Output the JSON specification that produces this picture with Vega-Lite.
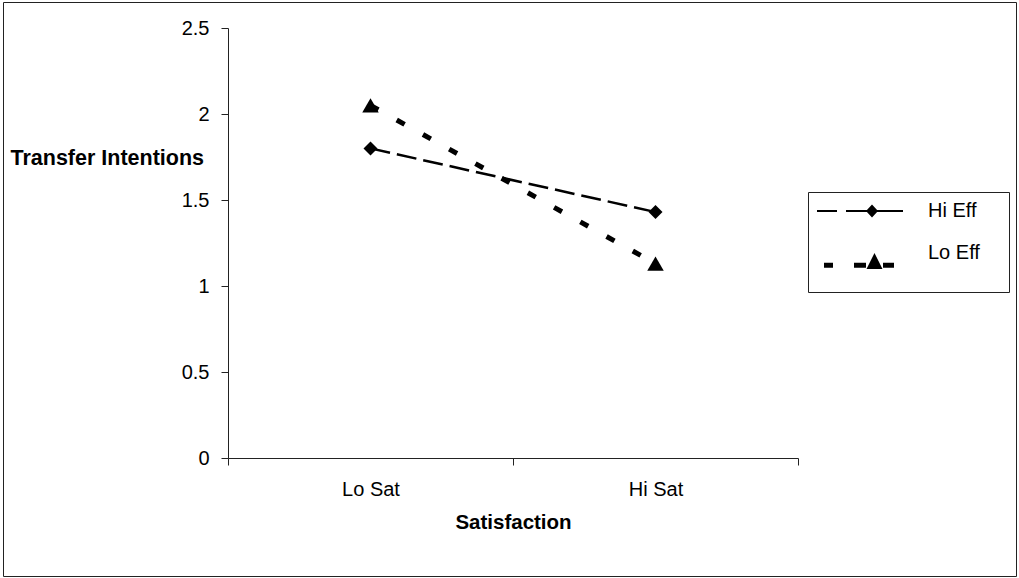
{
  "$schema": "https://vega.github.io/schema/vega-lite/v6.json",
  "width": 1013,
  "height": 574,
  "autosize": {"type": "none"},
  "padding": {"left": 3, "top": 2, "right": 3, "bottom": 2},
  "background": "white",
  "config": {
    "view": {"stroke": "#222", "strokeWidth": 1},
    "font": "Liberation Sans",
    "axis": {
      "grid": false,
      "domainColor": "#222",
      "tickColor": "#222",
      "labelColor": "black",
      "titleColor": "black",
      "labelFont": "Liberation Sans",
      "titleFont": "Liberation Sans"
    },
    "legend": {"labelFont": "Liberation Sans"}
  },
  "data": {
    "values": [
      {"series": "Hi Eff", "satisfaction": "Lo Sat", "intentions": 1.80},
      {"series": "Hi Eff", "satisfaction": "Hi Sat", "intentions": 1.43},
      {"series": "Lo Eff", "satisfaction": "Lo Sat", "intentions": 2.05},
      {"series": "Lo Eff", "satisfaction": "Hi Sat", "intentions": 1.13}
    ]
  },
  "encoding": {
    "x": {
      "field": "satisfaction",
      "type": "nominal",
      "sort": ["Lo Sat", "Hi Sat"],
      "scale": {"type": "band", "domain": ["Lo Sat", "Hi Sat"], "range": [225, 795], "paddingInner": 0, "paddingOuter": 0},
      "axis": {
        "orient": "bottom",
        "offset": -118,
        "tickBand": "extent",
        "tickSize": 7,
        "labelFontSize": 20,
        "labelPadding": 14,
        "labelAngle": 0,
        "title": "Satisfaction",
        "titleFontSize": 20.5,
        "titleFontWeight": "bold",
        "titleY": 64,
        "titleBaseline": "middle"
      }
    },
    "y": {
      "field": "intentions",
      "type": "quantitative",
      "scale": {"domain": [0, 2.5], "range": [456, 26], "nice": false, "zero": false},
      "axis": {
        "orient": "left",
        "offset": -225,
        "values": [0, 0.5, 1, 1.5, 2, 2.5],
        "format": "~g",
        "tickSize": 7,
        "labelPadding": 12,
        "labelFontSize": 20,
        "title": "Transfer Intentions",
        "titleAngle": 0,
        "titleX": -218,
        "titleY": 156,
        "titleAlign": "left",
        "titleBaseline": "middle",
        "titleFontSize": 21.5,
        "titleFontWeight": "bold"
      }
    }
  },
  "layer": [
    {
      "transform": [{"filter": "datum.series == 'Hi Eff'"}],
      "mark": {"type": "line", "color": "black", "strokeWidth": 2.5, "strokeDash": [20, 7]}
    },
    {
      "transform": [{"filter": "datum.series == 'Lo Eff'"}],
      "mark": {"type": "line", "color": "black", "strokeWidth": 5, "strokeDash": [9, 21]}
    },
    {
      "transform": [{"filter": "datum.series == 'Hi Eff'"}],
      "mark": {"type": "point", "shape": "diamond", "filled": true, "color": "black", "size": 196, "opacity": 1}
    },
    {
      "transform": [{"filter": "datum.series == 'Lo Eff'"}],
      "mark": {"type": "point", "shape": "triangle-up", "filled": true, "color": "black", "size": 272, "opacity": 1}
    },
    {
      "mark": {"type": "point", "filled": true, "color": "black", "opacity": 0, "size": 400},
      "encoding": {
        "shape": {
          "field": "series",
          "type": "nominal",
          "scale": {
            "domain": ["Hi Eff", "Lo Eff"],
            "range": [
              "M-1,-0.1H1V0.1H-1Z M1.9,-0.1H4V0.1H1.9Z M4.5,-0.65L5.1,0L4.5,0.65L3.9,0Z M5,-0.1H7.6V0.1H5Z M17.2,0L17.21,0L17.2,0Z",
              "M-0.3,0.97H0.6V1.47H-0.3Z M2.7,0.97H3.9V1.47H2.7Z M4.75,0L5.55,1.6H3.95Z M5.6,0.97H6.7V1.47H5.6Z M0,3L0.01,3L0,3Z"
            ]
          },
          "legend": {
            "orient": "none",
            "legendX": 805,
            "legendY": 190,
            "title": null,
            "strokeColor": "#222",
            "fillColor": "white",
            "padding": 9,
            "symbolSize": 400,
            "symbolFillColor": "black",
            "symbolStrokeWidth": 0,
            "symbolOpacity": 1,
            "labelFontSize": 20,
            "labelOffset": 91,
            "rowPadding": 22
          }
        }
      }
    }
  ]
}
